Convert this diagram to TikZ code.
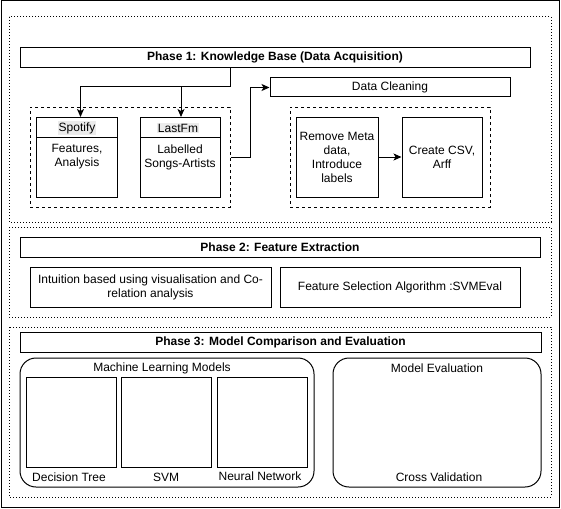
\documentclass[tikz,border=0pt]{standalone}
\usepackage{fontspec}
\setmainfont{Liberation Sans}
\usetikzlibrary{arrows.meta}
\begin{document}
\begin{tikzpicture}[x=1pt,y=-1pt,font=\fontsize{12}{14}\selectfont]
    \tikzstyle{box}=[draw=black, line width=1pt, inner sep=2pt, align=center]
    \tikzstyle{title}=[box, minimum height=20pt, font=\fontsize{12}{14}\selectfont\bfseries]
    \tikzstyle{group}=[draw=black, line width=1pt, dash pattern=on 3pt off 3pt]
    \tikzstyle{phase}=[draw=black, line width=1pt, dash pattern=on 1pt off 2pt]
    \tikzstyle{model}=[draw=black, line width=1pt, rounded corners=16pt]
    \tikzstyle{arrow}=[line width=1pt, -{Stealth[length=8pt,width=7pt,inset=2pt]}]
    \useasboundingbox (0,0) rectangle (561,508);
    \draw[line width=1pt] (1,1) rectangle (559,507);
    % phase 1
    \draw[phase] (9,17) rectangle (551,222);
    \node[title, minimum width=510] (p1) at (275,57.5) {Phase 1: Knowledge Base (Data Acquisition)};
    \node[box, minimum width=240, minimum height=19] (clean) at (390,87.5) {Data Cleaning};
    \node[group, minimum width=200, minimum height=100] (src) at (130,157) {};
    \node[box, minimum width=81, minimum height=80] (spot) at (77,157) {Features,\\Analysis};
    \draw[line width=1pt] (37,137) -- (117.5,137);
    \node[fill=black!8, inner sep=1pt] (spotlbl) at (77,128) {Spotify};
    \node[box, minimum width=80, minimum height=80] (lastfm) at (180,157) {Labelled\\Songs-Artists};
    \draw[line width=1pt] (140,137) -- (220,137);
    \node[fill=black!8, inner sep=1pt] (lastlbl) at (178,128) {LastFm};
    \node[group, minimum width=200, minimum height=100] (prep) at (390,157) {};
    \node[box, minimum width=82, minimum height=80] (meta) at (337,157) {Remove Meta\\data,\\Introduce\\labels};
    \node[box, minimum width=80, minimum height=80] (csv) at (442,157) {Create CSV,\\Arff};
    \coordinate (split) at (230,87);
    \draw[line width=1pt] (p1.south -| split) -- (split);
    \draw[arrow] (split) -| (80.5,117);
    \draw[arrow] (split) -| (181,117);
    \draw[arrow] (src.east) -- ++(20,0) |- (clean.west);
    \draw[arrow] (meta.east) -- (csv.west);
    % phase 2
    \draw[phase] (9,227) rectangle (551,317);
    \node[title, minimum width=520] (p2) at (280,247) {Phase 2: Feature Extraction};
    \node[box, minimum width=241, minimum height=40] (intuit) at (150.5,287) {Intuition based using visualisation and Co-\\relation analysis};
    \node[box, minimum width=240, minimum height=40] (svmeval) at (400,287) {Feature Selection Algorithm :SVMEval};
    % phase 3
    \draw[phase] (9,327) rectangle (551,497);
    \node[title, minimum width=521] (p3) at (280.5,342.5) {Phase 3: Model Comparison and Evaluation};
    \draw[model] (20,358) rectangle (314,487);
    \node (mlm) at (162,368) {Machine Learning Models};
    \node[box, minimum width=90, minimum height=90] (dt) at (71,422) {};
    \node[box, minimum width=90, minimum height=90] (svm) at (166.5,422) {};
    \node[box, minimum width=90, minimum height=90] (nn) at (262,422) {};
    \node (dtlbl) at (69,477.5) {Decision Tree};
    \node (svmlbl) at (166,477.5) {SVM};
    \node (nnlbl) at (260,476) {Neural Network};
    \draw[model] (333,358) rectangle (541,487);
    \node (evallbl) at (437,368) {Model Evaluation};
    \node (cvlbl) at (439,477.5) {Cross Validation};
\end{tikzpicture}
\end{document}
